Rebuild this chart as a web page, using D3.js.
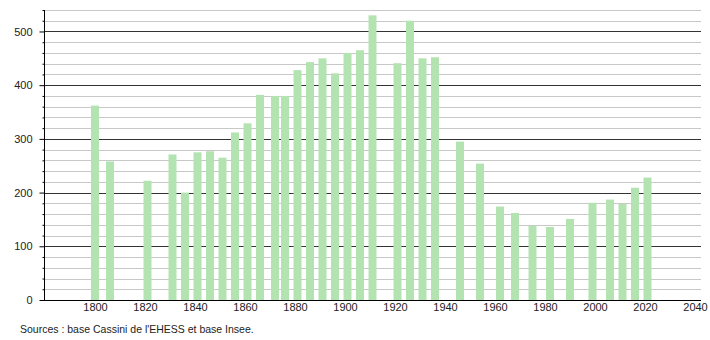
<!DOCTYPE html>
<html>
<head>
<meta charset="utf-8">
<script src="https://cdn.jsdelivr.net/npm/d3@7"></script>
<style>
  body { margin: 0; background: #fff; }
  text { font-family: "Liberation Sans", Arial, sans-serif; }
</style>
</head>
<body>
<div id="chart"></div>
<script>
// census years and population
var years = [1800, 1806, 1821, 1831, 1836, 1841, 1846, 1851, 1856, 1861, 1866, 1872, 1876,
             1881, 1886, 1891, 1896, 1901, 1906, 1911, 1921, 1926, 1931, 1936, 1946, 1954,
             1962, 1968, 1975, 1982, 1990, 1999, 2006, 2011, 2016, 2021];
var population = [362, 258, 222, 271, 200, 275, 277, 265, 312, 329, 382, 380, 380,
                  428, 443, 450, 422, 460, 465, 530, 441, 520, 450, 452, 295, 254,
                  174, 162, 138, 136, 151, 181, 187, 179, 209, 228];
var xTicks = [1800, 1820, 1840, 1860, 1880, 1900, 1920, 1940, 1960, 1980, 2000, 2020, 2040];
var yMajor = [0, 100, 200, 300, 400, 500];
var source = "Sources : base Cassini de l'EHESS et base Insee.";

var w = 710, h = 340;
var pLeft = 44, pRight = 701, pTop = 10, pBottom = 300;

var svg = d3.select("#chart").append("svg")
    .attr("width", w)
    .attr("height", h);

var x = d3.scaleLinear().domain([1779.6, 2042.4]).range([pLeft, pRight]);
var y = d3.scaleLinear().domain([0, 540]).range([pBottom, pTop]);

// minor grid every 20, major every 100
var minor = d3.range(20, 541, 20).filter(function(v){ return v % 100 != 0; });
svg.append("g").selectAll("line").data(minor).enter().append("line")
    .attr("x1", pLeft).attr("x2", pRight)
    .attr("y1", function(d){ return Math.round(y(d)) + 0.5; })
    .attr("y2", function(d){ return Math.round(y(d)) + 0.5; })
    .style("stroke", "#c8c8c8").style("stroke-width", 1);
svg.append("g").selectAll("line").data(yMajor.slice(1)).enter().append("line")
    .attr("x1", pLeft).attr("x2", pRight)
    .attr("y1", function(d){ return Math.round(y(d)) + 0.5; })
    .attr("y2", function(d){ return Math.round(y(d)) + 0.5; })
    .style("stroke", "#333").style("stroke-width", 1);

// bars
var barW = 8;
svg.append("g").selectAll("rect").data(years).enter().append("rect")
    .attr("x", function(d){ return x(d) - barW / 2; })
    .attr("width", barW)
    .attr("y", function(d, i){ return y(population[i]); })
    .attr("height", function(d, i){ return y(0) - y(population[i]); })
    .style("fill", "#b4e3b2");

// y axis
var yAxis = d3.axisLeft(y)
    .tickValues(d3.range(0, 541, 20))
    .tickSize(2)
    .tickFormat(function(d){ return d % 100 == 0 ? d : ""; });
var gy = svg.append("g").attr("transform", "translate(" + (pLeft + 0.5) + ",0)").call(yAxis);
gy.select(".domain").remove();
gy.selectAll(".tick").filter(function(d){ return d % 100 == 0; })
    .select("line").attr("x2", -5);
gy.selectAll(".tick line").style("stroke", "#000");
gy.selectAll(".tick text").attr("x", -12).style("font-size", "11px").style("fill", "#222");
svg.append("line")
    .attr("x1", pLeft + 0.5).attr("x2", pLeft + 0.5)
    .attr("y1", pTop).attr("y2", pBottom)
    .style("stroke", "#000");

// x axis
var xAxis = d3.axisBottom(x).tickValues(xTicks).tickSize(0).tickFormat(d3.format("d"));
var gx = svg.append("g").attr("transform", "translate(0," + (pBottom + 0.5) + ")").call(xAxis);
gx.select(".domain").remove();
gx.selectAll(".tick text").attr("y", 3).style("font-size", "11px").style("fill", "#222");
svg.append("line")
    .attr("x1", pLeft).attr("x2", pRight)
    .attr("y1", pBottom + 0.5).attr("y2", pBottom + 0.5)
    .style("stroke", "#000");

svg.append("text")
    .attr("x", 20).attr("y", 333)
    .style("font-size", "10.5px")
    .style("fill", "#222")
    .text(source);
</script>
</body>
</html>
